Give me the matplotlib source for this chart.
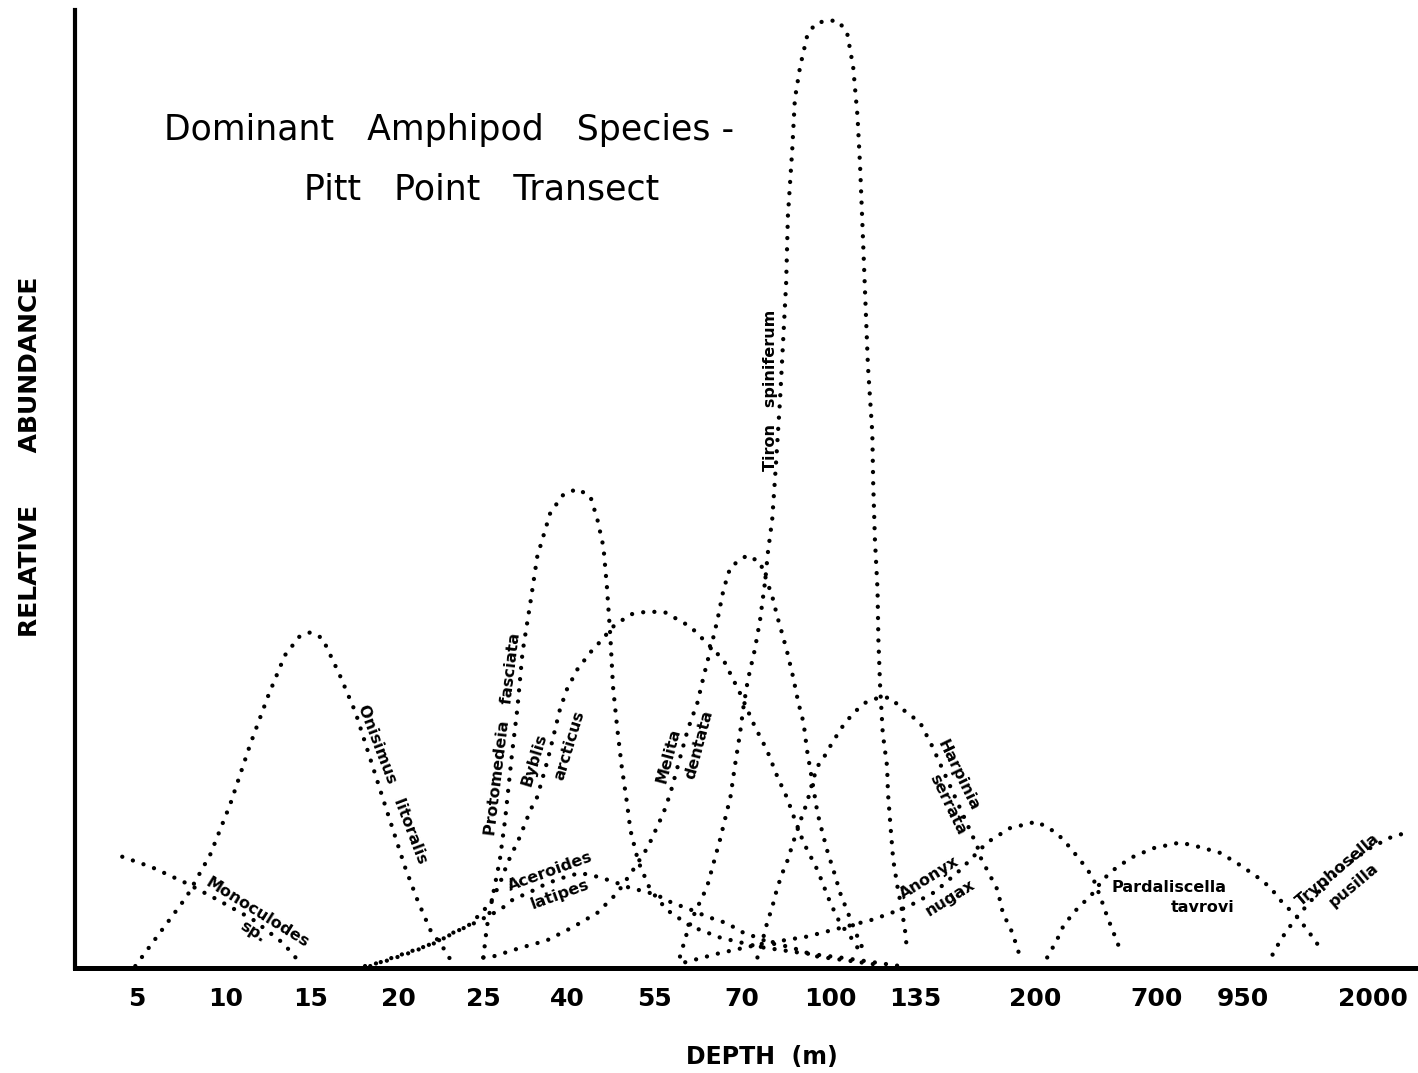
import matplotlib
matplotlib.use("Agg")
import matplotlib.pyplot as plt

# Depth stations along the transect (category positions on the x axis)
depth_labels = ["5", "10", "15", "20", "25", "40", "55", "70", "100", "135",
                "200", "700", "950", "2000"]
depth_pos = [1.00, 2.02, 2.99, 4.00, 4.98, 5.95, 6.95, 7.95, 8.97, 9.94,
             11.32, 12.72, 13.71, 15.20]

# Relative abundance curves (x = depth position, y = relative abundance)
monoculodes_x = [0.83, 1.17, 1.57, 1.92, 2.33, 2.68, 2.85]
monoculodes_y = [11.7, 10.6, 8.9, 7.2, 5.1, 2.6, 0.8]

onisimus_x = [0.98, 1.23, 1.57, 1.84, 2.07, 2.30, 2.51, 2.70, 2.87, 2.99, 3.13,
              3.33, 3.51, 3.83, 4.08, 4.22, 4.37, 4.52, 4.62]
onisimus_y = [0.2, 3.3, 7.5, 11.9, 17.2, 23.5, 28.7, 32.9, 34.9, 35.3, 34.7,
              30.8, 26.9, 17.7, 10.6, 7.2, 4.0, 2.1, 0.6]

protomedeia_x = [4.98, 5.02, 5.08, 5.17, 5.23, 5.31, 5.37, 5.43, 5.52, 5.60, 5.75,
                 5.90, 6.06, 6.21, 6.29, 6.36, 6.40, 6.44, 6.47, 6.52, 6.57, 6.63,
                 6.67, 6.76, 6.90, 7.09, 7.36, 7.70, 8.16, 8.62, 9.08, 9.54, 9.77]
protomedeia_y = [1.1, 4.3, 7.2, 11.4, 15.6, 22.6, 27.2, 33.2, 38.4, 43.3, 47.9,
                 49.8, 50.4, 49.6, 47.2, 44.3, 40.1, 34.8, 29.6, 25.1, 21.2, 17.4,
                 14.5, 11.2, 8.2, 6.1, 4.4, 3.2, 2.2, 1.6, 1.1, 0.5, 0.2]

byblis_x = [3.62, 3.85, 4.20, 4.54, 4.83, 5.06, 5.17, 5.26, 5.40, 5.52, 5.60, 5.72,
            5.86, 5.94, 6.06, 6.21, 6.34, 6.47, 6.67, 6.87, 7.07, 7.36, 7.59, 7.74,
            7.93, 8.10, 8.24, 8.36, 8.47, 8.56, 8.66, 8.82, 8.97, 9.08, 9.23, 9.34]
byblis_y = [0.2, 0.7, 1.8, 3.2, 4.6, 6.8, 8.9, 11.1, 13.8, 16.6, 18.0, 21.9,
            27.2, 29.3, 31.4, 33.2, 34.5, 35.9, 37.2, 37.5, 37.4, 35.9, 33.8, 32.4,
            28.9, 25.4, 22.9, 20.1, 17.9, 15.6, 13.2, 10.3, 6.8, 4.7, 2.9, 1.2]

melita_x = [4.98, 5.09, 5.40, 5.71, 6.01, 6.29, 6.52, 6.70, 6.87, 7.05, 7.13, 7.33,
            7.44, 7.51, 7.59, 7.67, 7.74, 7.82, 8.01, 8.16, 8.23, 8.30, 8.36, 8.41,
            8.47, 8.54, 8.60, 8.66, 8.70, 8.77, 8.82, 8.87, 8.93, 9.02, 9.08, 9.20,
            9.31, 9.38]
melita_y = [1.1, 1.2, 2.1, 2.9, 4.3, 5.8, 7.9, 10.3, 12.7, 16.3, 18.4, 25.1,
            27.9, 30.6, 33.5, 36.6, 39.8, 42.2, 43.4, 42.7, 40.9, 39.1, 36.9, 35.3,
            33.3, 30.6, 27.9, 25.8, 22.9, 19.1, 16.3, 14.5, 12.4, 9.8, 7.9, 5.1,
            2.6, 1.4]

tiron_x = [7.24, 7.33, 7.41, 7.55, 7.70, 7.82, 7.87, 7.93, 7.97, 8.02, 8.10, 8.16,
           8.22, 8.25, 8.30, 8.34, 8.39, 8.43, 8.46, 8.48, 8.53, 8.56, 8.62, 8.70,
           8.79, 8.93, 9.06, 9.16, 9.23, 9.28, 9.31, 9.34, 9.37, 9.40, 9.45, 9.46,
           9.48, 9.51, 9.52, 9.54, 9.57, 9.62, 9.63, 9.66, 9.69, 9.74, 9.79, 9.83,
           9.85]
tiron_y = [1.2, 4.0, 5.8, 8.5, 13.5, 18.0, 21.2, 24.7, 27.5, 30.3, 33.5, 36.6,
           40.8, 43.7, 47.2, 52.6, 59.8, 66.8, 72.1, 79.1, 86.1, 91.4, 94.8, 98.0,
           99.3, 99.7, 99.6, 98.4, 94.8, 89.6, 84.3, 77.4, 70.3, 63.3, 56.3, 51.1,
           45.1, 39.8, 34.5, 29.6, 24.7, 21.2, 18.4, 14.8, 11.4, 8.5, 6.1, 3.7,
           1.7]

harpinia_x = [8.13, 8.16, 8.24, 8.30, 8.36, 8.43, 8.48, 8.54, 8.60, 8.64, 8.70,
              8.77, 8.82, 8.89, 8.99, 9.10, 9.23, 9.37, 9.54, 9.66, 9.80, 10.00,
              10.14, 10.40, 10.66, 10.69, 10.77, 10.89, 10.95, 11.06, 11.13, 11.15]
harpinia_y = [1.1, 1.9, 4.7, 6.4, 8.5, 10.3, 11.4, 13.2, 14.8, 15.9, 17.4,
              19.8, 21.2, 22.1, 23.7, 25.3, 26.8, 27.9, 28.5, 28.4, 27.2, 25.8,
              23.3, 18.0, 12.7, 11.7, 10.3, 8.2, 5.8, 3.7, 1.7, 1.1]

anonyx_x = [7.30, 7.67, 8.16, 8.70, 9.08, 9.46, 9.85, 10.17, 10.46, 10.77, 11.03,
            11.34, 11.57, 11.72, 11.86, 11.98, 12.07, 12.15, 12.24, 12.32]
anonyx_y = [0.6, 1.5, 2.5, 3.3, 4.2, 5.1, 6.4, 8.0, 10.3, 13.2, 14.7,
            15.4, 14.2, 12.7, 11.1, 9.6, 7.5, 5.4, 3.3, 1.4]

aceroides_x = [3.68, 3.94, 4.10, 4.29, 4.45, 4.63, 4.83, 5.02, 5.17, 5.32, 5.52,
               5.71, 5.90, 6.09, 6.29, 6.47, 6.67, 6.86, 7.01, 7.16, 7.32, 7.55,
               7.78, 7.97, 8.13, 8.28, 8.51, 8.82, 9.23, 9.54]
aceroides_y = [0.2, 1.1, 1.6, 2.2, 2.7, 3.7, 4.5, 5.4, 6.1, 7.2, 8.0,
               8.9, 9.5, 10.0, 9.6, 9.1, 8.4, 8.0, 7.5, 6.8, 6.3, 5.4,
               4.7, 3.7, 3.2, 2.6, 2.2, 1.2, 0.7, 0.3]

pardaliscella_x = [11.46, 11.57, 11.64, 11.76, 11.87, 11.99, 12.10, 12.26, 12.45,
                   12.68, 12.99, 13.22, 13.45, 13.68, 13.87, 14.02, 14.17, 14.33,
                   14.45, 14.56, 14.62]
pardaliscella_y = [1.1, 2.9, 4.3, 5.8, 6.8, 7.9, 9.3, 10.6, 11.7,
                   12.6, 13.2, 12.7, 12.1, 10.8, 9.6, 8.5, 6.8, 5.4,
                   4.0, 2.6, 1.6]

tryphosella_x = [14.05, 14.14, 14.22, 14.31, 14.40, 14.60, 14.89, 15.17, 15.40, 15.61]
tryphosella_y = [1.4, 2.9, 4.0, 5.1, 6.1, 8.2, 10.8, 12.6, 13.7, 14.3]

curves = [
    (monoculodes_x, monoculodes_y),
    (onisimus_x, onisimus_y),
    (protomedeia_x, protomedeia_y),
    (byblis_x, byblis_y),
    (melita_x, melita_y),
    (tiron_x, tiron_y),
    (harpinia_x, harpinia_y),
    (anonyx_x, anonyx_y),
    (aceroides_x, aceroides_y),
    (pardaliscella_x, pardaliscella_y),
    (tryphosella_x, tryphosella_y),
]

# Species names written along the curves: (text, x, y, rotation)
species_labels = [
    ("Monoculodes", 2.38, 5.8, -32),
    ("sp.", 2.33, 3.8, -32),
    ("Onisimus   litoralis", 3.93, 19.3, -69),
    ("Protomedeia   fasciata", 5.21, 24.6, 83),
    ("Byblis", 5.57, 21.9, 73),
    ("arcticus", 5.97, 23.4, 73),
    ("Melita", 7.11, 22.3, 75),
    ("dentata", 7.46, 23.5, 75),
    ("Tiron   spiniferum", 8.28, 60.8, 90),
    ("Harpinia", 10.44, 20.3, -64),
    ("serrata", 10.31, 17.2, -64),
    ("Anonyx", 10.11, 9.5, 32),
    ("nugax", 10.34, 7.4, 32),
    ("Aceroides", 5.75, 10.1, 20),
    ("latipes", 5.86, 7.7, 20),
    ("Pardaliscella", 12.86, 8.5, 0),
    ("tavrovi", 13.25, 6.4, 0),
    ("Tryphosella", 14.80, 10.3, 40),
    ("pusilla", 14.98, 8.7, 40),
]

fig = plt.figure(figsize=(14.18, 10.73), dpi=100)
ax = fig.add_axes([0.0529, 0.0979, 0.947, 0.893])
ax.set_xlim(0.287, 15.72)
ax.set_ylim(0, 100.8)

for cx, cy in curves:
    ax.plot(cx, cy, color="black", linewidth=3.1, linestyle=(0, (0.01, 2.6)),
            dash_capstyle="round", solid_capstyle="round")

for text, lx, ly, rot in species_labels:
    ax.text(lx, ly, text, rotation=rot, rotation_mode="anchor",
            ha="center", va="center", fontsize=11.5, fontweight="bold",
            family="DejaVu Sans", color="black")

for side in ("top", "right"):
    ax.spines[side].set_visible(False)
ax.spines["left"].set_linewidth(3.0)
ax.spines["bottom"].set_linewidth(3.6)

ax.set_xticks(depth_pos)
ax.set_xticklabels(depth_labels, fontsize=18, fontweight="bold")
ax.tick_params(axis="x", length=0, pad=14)
ax.set_yticks([])

fig.text(0.317, 0.879, "Dominant   Amphipod   Species -", ha="center", va="center",
         fontsize=25, family="DejaVu Sans")
fig.text(0.340, 0.823, "Pitt   Point   Transect", ha="center", va="center",
         fontsize=25, family="DejaVu Sans")
fig.text(0.021, 0.574, "RELATIVE      ABUNDANCE", rotation=90, ha="center",
         va="center", fontsize=18, fontweight="bold")
fig.text(0.537, 0.015, "DEPTH  (m)", ha="center", va="center",
         fontsize=17, fontweight="bold")

fig.savefig("out.png", dpi=100)
